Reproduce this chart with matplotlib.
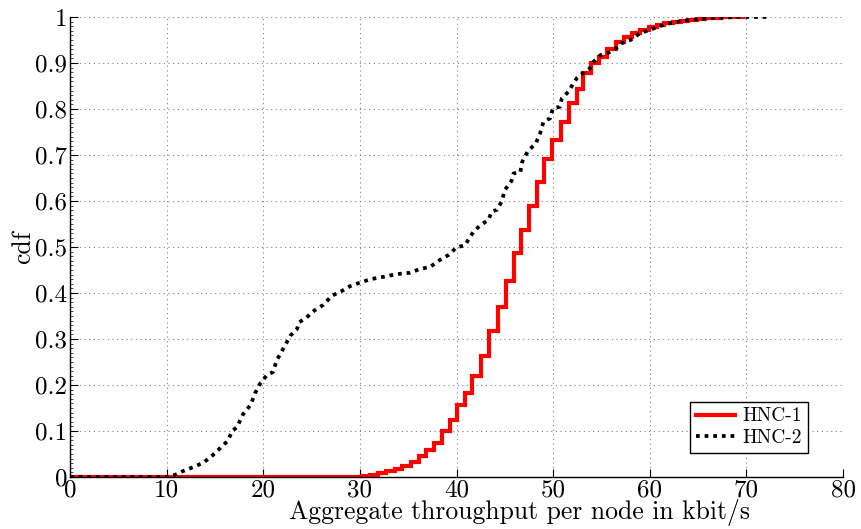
import matplotlib
matplotlib.use("Agg")
import matplotlib.pyplot as plt
from matplotlib.ticker import MultipleLocator, FuncFormatter

plt.rcParams["font.family"] = ["cmr10", "DejaVu Serif"]
plt.rcParams["mathtext.fontset"] = "cm"
plt.rcParams["axes.formatter.use_mathtext"] = True

# HNC-1: empirical CDF as a staircase (step position, level after the step)
hnc1_x = [0.0, 29.0, 30.2, 31.0, 31.9, 32.7, 33.6, 34.4, 35.3, 36.1, 36.85, 37.7,
          38.5, 39.3, 40.1, 40.9, 41.65, 42.5, 43.4, 44.3, 45.1, 45.9, 46.7,
          47.5, 48.3, 49.07, 49.9, 50.8, 51.6, 52.45, 53.07, 53.9, 54.76, 55.6,
          56.5, 57.35, 58.2, 59.0, 59.9, 60.7, 61.5, 62.4, 63.2, 64.0, 64.9,
          65.7, 66.6, 67.4, 68.2, 69.1, 69.7]
hnc1_cdf = [0.0, 0.001, 0.002, 0.004, 0.008, 0.012, 0.017, 0.024, 0.033, 0.046,
            0.059, 0.075, 0.099, 0.125, 0.157, 0.183, 0.220, 0.264, 0.317,
            0.370, 0.427, 0.486, 0.537, 0.589, 0.641, 0.691, 0.733, 0.772,
            0.812, 0.843, 0.878, 0.899, 0.914, 0.930, 0.946, 0.957, 0.966,
            0.972, 0.979, 0.983, 0.987, 0.990, 0.992, 0.994, 0.996, 0.997,
            0.998, 0.999, 0.9995, 1.0, 1.0]

# HNC-2: empirical CDF
hnc2_x = [0.0, 10.0, 10.9, 11.6, 12.7, 13.8, 14.7, 15.5, 16.3, 16.8, 17.3, 17.9,
          18.7, 19.15, 19.7, 20.4, 21.0, 21.4, 22.1, 22.8, 23.5, 23.7, 24.5,
          25.3, 26.2, 27.1, 28.1, 29.0, 29.8, 31.1, 32.4, 33.8, 35.2, 36.2,
          37.3, 38.3, 39.2, 40.0, 40.9, 41.2, 41.75, 42.4, 43.3, 43.65, 44.2,
          44.7, 45.0, 45.7, 45.9, 46.6, 46.8, 47.4, 48.2, 48.65, 49.0, 49.7,
          49.97, 50.7, 50.9, 51.6, 52.1, 52.45, 53.1, 53.8, 54.0, 54.9, 55.6,
          56.4, 57.1, 58.0, 59.0, 60.0, 61.0, 62.0, 63.0, 64.0, 65.0, 66.0,
          67.0, 68.0, 69.0, 72.5]
hnc2_cdf = [0.0, 0.0, 0.005, 0.012, 0.021, 0.031, 0.046, 0.062, 0.078, 0.100,
            0.109, 0.136, 0.157, 0.182, 0.204, 0.222, 0.228, 0.254, 0.280,
            0.307, 0.322, 0.336, 0.347, 0.362, 0.374, 0.394, 0.404, 0.415,
            0.421, 0.430, 0.435, 0.441, 0.444, 0.452, 0.457, 0.472, 0.483,
            0.499, 0.504, 0.515, 0.533, 0.546, 0.559, 0.577, 0.581, 0.600,
            0.624, 0.644, 0.660, 0.662, 0.685, 0.709, 0.725, 0.747, 0.772,
            0.780, 0.801, 0.805, 0.823, 0.838, 0.856, 0.867, 0.878, 0.888,
            0.899, 0.917, 0.921, 0.930, 0.943, 0.950, 0.965, 0.972, 0.980,
            0.986, 0.990, 0.993, 0.995, 0.997, 0.998, 0.999, 1.0, 1.0]

x_ticks = [0, 10, 20, 30, 40, 50, 60, 70, 80]
y_ticks = [0, 0.1, 0.2, 0.3, 0.4, 0.5, 0.6, 0.7, 0.8, 0.9, 1]

fig = plt.figure(figsize=(8.61, 5.29), dpi=100)
ax = fig.add_axes([70 / 861, 52 / 529, 773 / 861, 460 / 529])

ax.plot(hnc1_x, hnc1_cdf, color="#ff0000", lw=3.0, drawstyle="steps-post",
        label="HNC-1", solid_joinstyle="miter", zorder=3)
ax.plot(hnc2_x, hnc2_cdf, color="black", lw=2.7, linestyle=(0, (1.0, 1.3)),
        dash_capstyle="butt", label="HNC-2", zorder=4)

ax.set_xlim(0, 80)
ax.set_ylim(0, 1)
ax.set_xticks(x_ticks)
ax.set_yticks(y_ticks)
ax.yaxis.set_minor_locator(MultipleLocator(0.01))
ax.yaxis.set_major_formatter(FuncFormatter(lambda v, p: "%g" % v))
ax.xaxis.set_major_formatter(FuncFormatter(lambda v, p: "%g" % v))

ax.grid(True, which="major", color="#808080", lw=0.8, linestyle=(0, (1, 3.2)))
ax.set_axisbelow(True)

for side in ("top", "right"):
    ax.spines[side].set_visible(False)
for side in ("left", "bottom"):
    ax.spines[side].set_linewidth(1.0)
    ax.spines[side].set_zorder(5)

ax.tick_params(which="major", direction="in", length=5.5, width=0.8,
               labelsize=18, pad=2)
ax.tick_params(axis="y", which="minor", direction="in", length=2, width=0.5)
ax.tick_params(axis="x", which="major", pad=1.5)

ax.set_xlabel("Aggregate throughput per node in kbit/s", fontsize=18.5)
ax.xaxis.set_label_coords(0.582, -0.048)
ax.set_ylabel("cdf", fontsize=18.5, labelpad=0)

leg = ax.legend(loc="lower right", bbox_to_anchor=(808 / 861, (529 - 453) / 529),
                bbox_transform=fig.transFigure, fontsize=14, frameon=True,
                fancybox=False, edgecolor="black", framealpha=1,
                handlelength=2.0, handletextpad=0.4, borderpad=0.3,
                labelspacing=0.2, borderaxespad=0)
leg.get_frame().set_linewidth(1.0)

fig.savefig("out.png", dpi=100)
